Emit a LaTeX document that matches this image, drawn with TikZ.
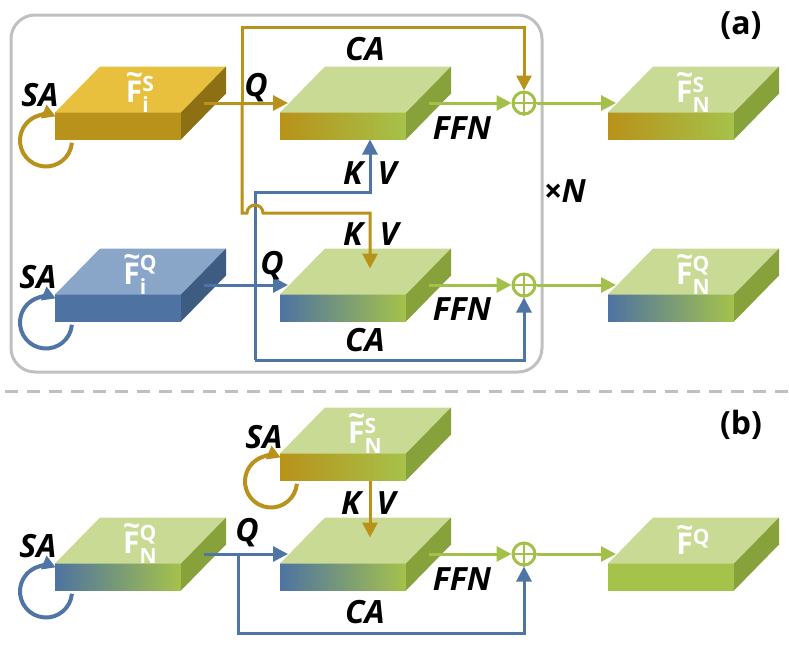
\documentclass[tikz,border=0pt]{standalone}
\usepackage{amsmath}
\usepackage{fontspec}
\setmainfont{Open Sans}
\usetikzlibrary{
  arrows.meta,
  positioning,
  calc
}
\definecolor{goldtop}{RGB}{232,192,62}
\definecolor{goldfront}{RGB}{184,146,26}
\definecolor{goldside}{RGB}{140,112,19}
\definecolor{bluetop}{RGB}{137,166,201}
\definecolor{bluefront}{RGB}{78,115,162}
\definecolor{blueside}{RGB}{62,91,130}
\definecolor{greentop}{RGB}{201,218,149}
\definecolor{greenfront}{RGB}{165,194,74}
\definecolor{greenside}{RGB}{135,162,58}
\definecolor{goldline}{RGB}{184,146,26}
\definecolor{blueline}{RGB}{79,117,166}
\definecolor{greenline}{RGB}{163,193,74}
\definecolor{framegray}{RGB}{192,192,192}

\tikzset{
  slabfront/.style={rectangle, minimum width=63pt, minimum height=13.5pt, inner sep=0pt, outer sep=0pt},
  slablabel/.style={text=white, font=\fontsize{15}{15}\selectfont\bfseries, inner sep=0pt},
  lbl/.style={font=\fontsize{16}{18}\selectfont\bfseries\itshape, inner sep=0pt, text height=11.5pt, text depth=0pt},
  tag/.style={font=\fontsize{16}{18}\selectfont\bfseries, inner sep=0pt},
  plus/.style={circle, draw=greenline, line width=1.5pt, minimum size=11pt, inner sep=0pt},
  arr/.style={line width=1.5pt, -{Triangle[length=7.5pt,width=7.5pt]}},
  goldarr/.style={arr, draw=goldline},
  bluearr/.style={arr, draw=blueline},
  greenarr/.style={arr, draw=greenline},
  goldloop/.style={line width=2pt, draw=goldline, -{Triangle[length=6.5pt,width=7pt]}},
  blueloop/.style={line width=2pt, draw=blueline, -{Triangle[length=6.5pt,width=7pt]}}
}

% feature name on a slab
\newcommand{\feat}[2]{\rlap{\raisebox{0.56em}{\textasciitilde}}F$^{\text{#1}}_{\text{#2}}$}

% slab: name, centre of front face, top, side, front left, front right, label
\newcommand{\slab}[7]{%
  \node[slabfront, left color=#5, right color=#6] (#1) at (#2) {};
  \fill[#3] (#1.north west) -- ++(45,-46) -- ++(126,0) -- (#1.north east) -- cycle;
  \fill[#4] (#1.north east) -- ++(45,-46) -- ++(0,27) -- (#1.south east) -- cycle;
  \coordinate (#1-side) at ($(#1.east)+(22.5,-23)$);
  \coordinate (#1-in) at ($(#1.north west)+(8,0)$);
  \coordinate (#1-kv) at ($(#1.north)+(27,-26)$);
  \coordinate (#1-bot) at ($(#1.south)+(27,0)$);
  \node[slablabel] (#1-lbl) at ($(#1.north)+(22.5,-20)$) {#7};
}

\begin{document}
\begin{tikzpicture}[x=0.5pt, y=-0.5pt]
  \useasboundingbox (0,0) rectangle (789,664);

  % Frame of (a) and separator
  \draw[framegray, line width=1.5pt, rounded corners=12pt] (11,15) rectangle (542,372);
  \draw[framegray, line width=1.5pt, dash pattern=on 6.5pt off 4.5pt] (5,391) -- (789,391);

  % Slabs of (a)
  \slab{fis}{118,126}{goldtop}{goldside}{goldfront}{goldfront}{\feat{S}{i}}
  \slab{ca1}{343,126}{greentop}{greenside}{goldfront}{greenfront}{}
  \slab{fns}{671,126}{greentop}{greenside}{goldfront}{greenfront}{\feat{S}{N}}
  \slab{fiq}{118,308}{bluetop}{blueside}{bluefront}{bluefront}{\feat{Q}{i}}
  \slab{ca2}{343,308}{greentop}{greenside}{bluefront}{greenfront}{}
  \slab{fnq}{671,308}{greentop}{greenside}{bluefront}{greenfront}{\feat{Q}{N}}

  % Slabs of (b)
  \slab{fns2}{343,467}{greentop}{greenside}{goldfront}{greenfront}{\feat{S}{N}}
  \slab{fnq2}{118,577}{greentop}{greenside}{bluefront}{greenfront}{\feat{Q}{N}}
  \slab{ca3}{343,577}{greentop}{greenside}{bluefront}{greenfront}{}
  \slab{fq}{671,577}{greentop}{greenside}{greenfront}{greenfront}{\feat{Q}{}}

  % Sums
  \node[plus] (p1) at (524,103) {};
  \node[plus] (p2) at (524,285) {};
  \node[plus] (p3) at (524,554) {};
  \foreach \p in {p1,p2,p3}
    \draw[greenline, line width=1.2pt] (\p.north) -- (\p.south) (\p.west) -- (\p.east);

  % Bends
  \coordinate (gtop) at (242,27);
  \coordinate (gbend) at (242,213);
  \coordinate (btop) at (255,192);
  \coordinate (bbot) at (255,360);
  \coordinate (bq2) at (238,554);
  \coordinate (bbot2) at (238,633);

  % Self attention loops
  \draw[goldloop] ($(fis.north west)+(-9,28)$) ++(5:26) arc[start angle=5, end angle=292, radius=26];
  \draw[blueloop] ($(fiq.north west)+(-9,28)$) ++(5:26) arc[start angle=5, end angle=292, radius=26];
  \draw[goldloop] ($(fns2.north west)+(-9,28)$) ++(5:26) arc[start angle=5, end angle=292, radius=26];
  \draw[blueloop] ($(fnq2.north west)+(-9,28)$) ++(5:26) arc[start angle=5, end angle=292, radius=26];

  % Blue paths (a)
  \draw[bluearr] (fiq-side) -- (fiq-side -| ca2-in);
  \draw[bluearr] (bbot) -- (btop) -| (ca1-bot);
  \draw[bluearr] (bbot) -| (p2.south);

  % Gold paths (a)
  \draw[goldarr] (fis-side) -- (fis-side -| ca1-in);
  \draw[goldarr] (fis-side -| gtop) -- (gtop) -| (p1.north);
  \draw[goldarr] (fis-side -| gtop) -- (gbend) -- ++(5,0) arc[start angle=180, end angle=360, radius=8] -| (ca2-kv);

  % FFN and output (a)
  \draw[greenarr] (ca1-side) -- (ca1-side -| p1.west);
  \draw[greenarr] (p1.east) -- (p1 -| fns-in);
  \draw[greenarr] (ca2-side) -- (ca2-side -| p2.west);
  \draw[greenarr] (p2.east) -- (p2 -| fnq-in);

  % Paths (b)
  \draw[bluearr] (fnq2-side) -- (fnq2-side -| ca3-in);
  \draw[bluearr] (bq2) -- (bbot2) -| (p3.south);
  \draw[goldarr] (fns2.south -| ca3-kv) -- (ca3-kv);
  \draw[greenarr] (ca3-side) -- (ca3-side -| p3.west);
  \draw[greenarr] (p3.east) -- (p3 -| fq-in);

  % Labels (a)
  \node[lbl] (sa1) at (40,95) {SA};
  \node[lbl] (q1) at (256,85) {Q};
  \node[lbl] (ca1-t) at (365,49) {CA};
  \node[lbl] (k1) at (353,173) {K};
  \node[lbl] (v1) at (387,173) {V};
  \node[lbl] (ffn1) at (462,128) {FFN};
  \node[lbl] (rep) at (565,191) {×N};
  \node[tag] (ta) at (741,26) {(a)};
  \node[lbl] (sa2) at (38,277) {SA};
  \node[lbl] (q2) at (272,263) {Q};
  \node[lbl] (k2) at (353,234) {K};
  \node[lbl] (v2) at (389,234) {V};
  \node[lbl] (ca2-t) at (365,340) {CA};
  \node[lbl] (ffn2) at (462,309) {FFN};

  % Labels (b)
  \node[lbl] (sa3) at (264,437) {SA};
  \node[lbl] (k3) at (351,503) {K};
  \node[lbl] (v3) at (386,503) {V};
  \node[lbl] (q3) at (247,530) {Q};
  \node[lbl] (sa4) at (38,546) {SA};
  \node[lbl] (ca3-t) at (365,612) {CA};
  \node[lbl] (ffn3) at (462,579) {FFN};
  \node[tag] (tb) at (741,425) {(b)};
\end{tikzpicture}
\end{document}
